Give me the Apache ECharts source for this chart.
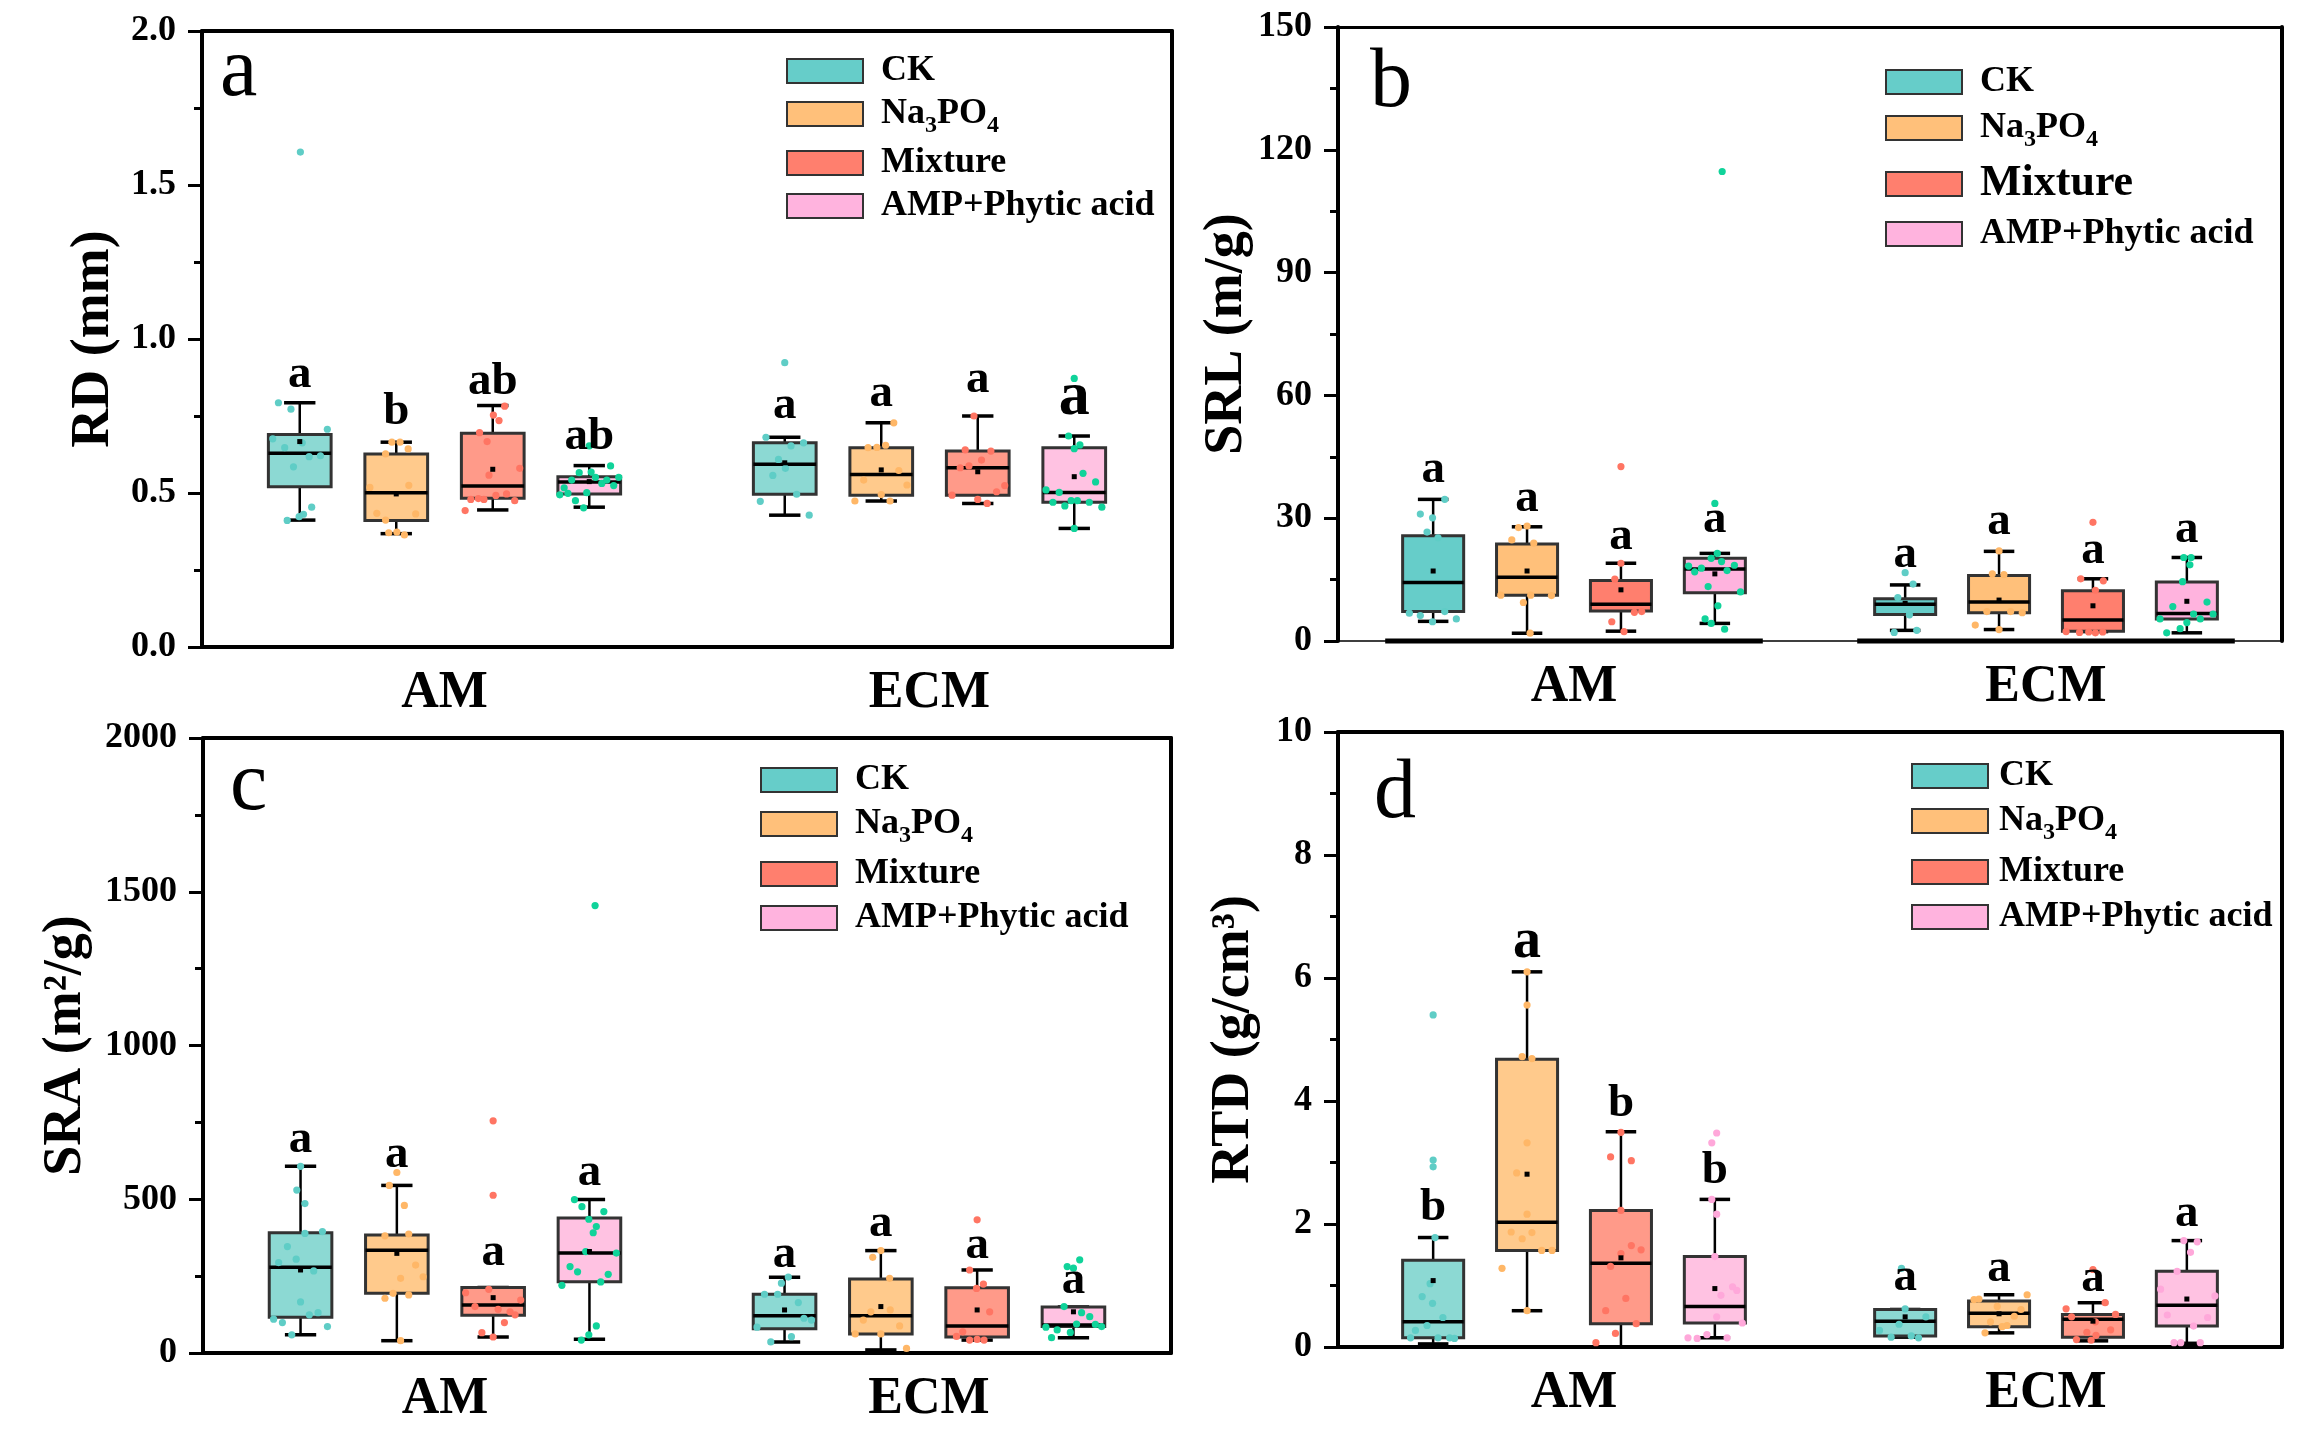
<!DOCTYPE html>
<html>
<head>
<meta charset="utf-8">
<title>RD / SRL / SRA / RTD</title>
<script src="https://cdn.jsdelivr.net/npm/echarts@6/dist/echarts.min.js"></script>
<style>
  html, body { margin: 0; background: #fff; }
  #chart { width: 2305px; height: 1432px; }
</style>
</head>
<body>
<div id="chart"></div>
<script>
// 分组与处理
var groups = ['AM', 'ECM'];
var treatments = ['CK', 'Na3PO4', 'Mixture', 'AMP+Phytic acid'];

// 箱线统计 [min, Q1, median, Q3, max]，每个处理为 [AM, ECM]
var rdBox = [
  [[0.412, 0.520, 0.629, 0.690, 0.793], [0.428, 0.496, 0.593, 0.663, 0.681]],
  [[0.368, 0.411, 0.501, 0.627, 0.665], [0.474, 0.493, 0.560, 0.647, 0.728]],
  [[0.445, 0.483, 0.523, 0.694, 0.784], [0.466, 0.493, 0.582, 0.636, 0.750]],
  [[0.454, 0.497, 0.536, 0.553, 0.589], [0.385, 0.470, 0.502, 0.647, 0.685]]
];
var srlBox = [
  [[4.8, 7.2, 14.3, 25.7, 34.6], [2.6, 6.5, 9.0, 10.3, 13.7]],
  [[1.9, 11.2, 15.6, 23.7, 27.9], [2.8, 6.9, 9.5, 16.0, 21.9]],
  [[2.4, 7.3, 9.0, 14.8, 19.0], [2.3, 2.4, 5.1, 12.3, 15.2]],
  [[4.3, 11.8, 17.6, 20.2, 21.4], [2.0, 5.4, 6.7, 14.4, 20.4]]
];
var sraBox = [
  [[59, 116, 279, 391, 607], [36, 79, 121, 191, 246]],
  [[40, 194, 334, 384, 545], [10, 62, 121, 241, 333]],
  [[52, 123, 156, 213, 213], [42, 52, 88, 212, 270]],
  [[45, 232, 325, 439, 499], [50, 86, 91, 150, 150]]
];
var rtdBox = [
  [[0.05, 0.15, 0.41, 1.41, 1.78], [0.16, 0.18, 0.42, 0.61, 0.61]],
  [[0.59, 1.57, 2.03, 4.68, 6.10], [0.23, 0.33, 0.55, 0.75, 0.85]],
  [[0.00, 0.38, 1.36, 2.22, 3.50], [0.10, 0.16, 0.45, 0.53, 0.72]],
  [[0.15, 0.39, 0.66, 1.47, 2.40], [0.06, 0.34, 0.68, 1.23, 1.73]]
];

// 散点 [横向抖动(箱宽比例), 数值]
var rdPts = [
  [[[-0.34,0.793],[-0.14,0.772],[0.44,0.707],[-0.43,0.676],[0.04,0.663],[-0.24,0.647],[0.15,0.618],[0.33,0.621],[-0.10,0.585],[0.19,0.454],[0.06,0.431],[-0.01,0.423],[-0.20,0.411],[0.01,1.607]],
   [[0,0.923],[-0.30,0.681],[0.30,0.663],[0.10,0.653],[-0.10,0.609],[0.01,0.580],[-0.19,0.557],[0.19,0.496],[-0.39,0.473],[0.39,0.428]]],
  [[[-0.07,0.665],[0.06,0.665],[0.19,0.643],[-0.17,0.627],[-0.42,0.518],[0.20,0.525],[-0.31,0.434],[0.31,0.432],[-0.17,0.412],[-0.12,0.371],[0.01,0.373],[0.13,0.364]],
   [[0.20,0.728],[-0.21,0.647],[-0.07,0.648],[0.07,0.655],[0.28,0.573],[-0.28,0.542],[0.41,0.526],[0,0.495],[-0.42,0.474],[0.14,0.474]]],
  [[[0.19,0.782],[0.01,0.753],[0.10,0.735],[-0.21,0.696],[-0.09,0.667],[0.43,0.580],[-0.06,0.558],[0.22,0.497],[0.05,0.492],[-0.35,0.479],[-0.23,0.482],[-0.14,0.479],[0.35,0.475],[-0.44,0.443]],
   [[-0.06,0.750],[-0.20,0.640],[0.21,0.636],[0.06,0.607],[-0.28,0.582],[-0.14,0.588],[0.43,0.524],[0.30,0.504],[-0.41,0.493],[0,0.479],[0.15,0.466]]],
  [[[0,0.653],[0.34,0.588],[-0.16,0.566],[0.03,0.568],[0.10,0.551],[0.47,0.551],[-0.28,0.542],[0.20,0.531],[0.28,0.542],[0.39,0.524],[-0.40,0.517],[-0.04,0.501],[-0.34,0.499],[-0.47,0.494],[-0.22,0.475],[-0.09,0.452]],
   [[0,0.872],[-0.09,0.685],[0.09,0.656],[0,0.644],[0.14,0.564],[0.34,0.536],[-0.45,0.510],[-0.24,0.502],[-0.34,0.470],[-0.05,0.475],[0.05,0.475],[0.24,0.470],[-0.15,0.458],[0.44,0.454],[0,0.385]]]
];
var srlPts = [
  [[[0.19,34.6],[-0.21,31.0],[-0.01,30.1],[-0.10,26.6],[0.08,25.2],[-0.39,6.8],[-0.21,6.2],[0.19,7.2],[0.38,5.4],[-0.01,4.7]],
   [[0,16.7],[0.13,13.9],[-0.12,10.6],[0.07,6.4],[-0.18,2.1],[0.19,2.6]]],
  [[[-0.14,27.7],[0,28.1],[-0.25,24.7],[0.11,23.9],[-0.43,11.2],[0.06,11.2],[0.40,11.1],[-0.06,9.4],[0.05,1.9]],
   [[0,22.0],[-0.11,16.4],[0.08,16.2],[-0.20,7.2],[0.19,7.2],[0.38,6.9],[-0.39,3.9],[0,2.8]]],
  [[[0,42.6],[0,19.0],[-0.10,15.1],[0.22,7.0],[0.34,7.2],[-0.15,4.7],[0.05,2.3]],
   [[0,29.0],[-0.20,15.2],[0.17,14.7],[0.04,12.4],[-0.44,2.3],[-0.22,2.1],[0.04,2.0],[0.16,2.2],[-0.07,2.2]]],
  [[[0.12,114.7],[0,33.6],[0.04,21.4],[-0.06,20.2],[0.11,19.4],[-0.43,18.3],[0.32,18.5],[-0.33,16.9],[-0.22,17.8],[0.20,17.2],[-0.11,13.3],[0.42,12.0],[0.05,8.6],[-0.16,5.4],[-0.06,4.3],[0.16,2.9]],
   [[-0.05,20.4],[0.07,20.4],[0.05,18.6],[-0.07,14.5],[0.33,9.5],[-0.23,8.4],[0.11,6.6],[0.22,5.4],[0.43,6.6],[-0.44,5.4],[0,4.5],[-0.11,3.0],[-0.33,2.0]]]
];
var sraPts = [
  [[[0,607],[-0.06,530],[0.07,486],[0.07,389],[0.35,395],[-0.21,346],[-0.07,305],[-0.35,294],[0.21,267],[0,166],[0.28,131],[0.14,124],[-0.43,110],[-0.29,99],[0.43,86],[-0.14,59]],
   [[0.06,247],[-0.05,227],[-0.32,191],[-0.11,191],[0.22,164],[0.31,113],[0.43,107],[-0.44,84],[0.11,53],[-0.22,36]]],
  [[[0,587],[-0.12,545],[0.12,480],[-0.19,381],[0.19,387],[0.30,286],[0.42,248],[0.06,243],[-0.06,194],[0.19,189],[-0.19,178],[0.06,40]],
   [[0,333],[-0.13,311],[0.14,243],[0.15,140],[-0.16,134],[-0.28,107],[0.30,88],[-0.41,62],[0,62],[0.41,15]]],
  [[[0,755],[0,513],[-0.07,207],[-0.44,196],[0.44,172],[-0.29,151],[0.08,142],[0.27,134],[0.35,124],[0.18,99],[-0.18,66],[0,52]],
   [[0,433],[-0.12,270],[0.10,224],[-0.01,210],[0.20,134],[-0.23,69],[-0.33,54],[-0.12,42],[0,44],[0.11,42]]],
  [[[0.09,1455],[-0.24,499],[-0.12,476],[0.23,460],[-0.01,435],[0.11,411],[0.06,391],[-0.06,330],[0.43,325],[-0.31,281],[-0.19,264],[0.30,256],[0.18,231],[-0.44,220],[0.11,88],[-0.01,59],[-0.13,42]],
   [[0.10,303],[-0.10,281],[0,276],[-0.15,151],[0.13,131],[0.26,118],[0.05,94],[0.35,93],[0.45,86],[-0.44,84],[-0.26,75],[-0.05,67],[-0.35,50]]]
];
var rtdPts = [
  [[[0,5.40],[0,3.04],[0,2.93],[0.03,1.78],[-0.05,1.03],[-0.18,0.82],[-0.01,0.71],[0.16,0.48],[-0.10,0.35],[-0.29,0.27],[-0.37,0.15],[0.08,0.15],[0.27,0.15],[0.35,0.14]],
   [[-0.06,1.28],[0,0.62],[0.34,0.49],[-0.10,0.37],[-0.42,0.27],[-0.23,0.16],[0.10,0.18],[0.22,0.15]]],
  [[[0,6.10],[0,5.56],[-0.08,4.72],[0.08,4.69],[0,3.32],[-0.17,2.83],[0,2.16],[-0.26,1.87],[0.08,1.86],[-0.08,1.76],[0.24,1.57],[0.41,1.57],[-0.41,1.28],[0,0.59]],
   [[0.46,0.85],[-0.41,0.77],[-0.33,0.78],[-0.03,0.66],[0.36,0.61],[0.25,0.50],[-0.14,0.41],[0.13,0.35],[0.05,0.33],[-0.23,0.23]]],
  [[[0,3.49],[-0.17,3.09],[0.17,3.03],[0,2.22],[0.17,1.65],[0.33,1.58],[0,1.52],[-0.17,1.31],[0.08,0.79],[-0.25,0.59],[0.25,0.38],[-0.09,0.22],[-0.41,0.07]],
   [[0,1.26],[0.20,0.72],[-0.44,0.62],[0.37,0.53],[-0.35,0.49],[0.04,0.41],[0.29,0.28],[-0.10,0.24],[0.05,0.19],[-0.27,0.12],[-0.03,0.11]]],
  [[[0.03,3.48],[-0.05,3.32],[-0.05,2.40],[0.03,2.16],[0,1.47],[0.29,0.98],[0.36,0.92],[0.10,0.84],[0.03,0.49],[0.45,0.39],[-0.13,0.20],[-0.44,0.15],[-0.29,0.14],[0.20,0.15]],
   [[-0.05,1.73],[0.17,1.71],[0.06,1.54],[-0.16,1.23],[-0.43,0.94],[0.46,0.83],[-0.32,0.52],[0.34,0.48],[0.11,0.34],[-0.21,0.07],[-0.10,0.07],[0.22,0.07]]]
];

// 均值 [AM, ECM]
var rdMean = [[0.667, 0.598], [0.497, 0.575], [0.577, 0.569], [0.537, 0.553]];
var srlMean = [[17.1, 9.2], [17.1, 10.0], [12.5, 8.6], [16.4, 9.7]];
var sraMean = [[270, 140], [324, 151], [180, 140], [330, 134]];
var rtdMean = [[1.08, 0.49], [2.81, 0.54], [1.45, 0.42], [0.95, 0.78]];

// 显著性字母及其高度
var rdLetters = [['a', 'a'], ['b', 'a'], ['ab', 'a'], ['ab', 'a']];
var rdLetterY = [[0.873, 0.772], [0.753, 0.813], [0.850, 0.857], [0.672, 0.800]];
var srlLetters = [['a', 'a'], ['a', 'a'], ['a', 'a'], ['a', 'a']];
var srlLetterY = [[41, 20.2], [34, 28.3], [24.7, 21.4], [28.8, 26.3]];
var sraLetters = [['a', 'a'], ['a', 'a'], ['a', 'a'], ['a', 'a']];
var sraLetterY = [[684, 311], [633, 411], [317, 340], [576, 224]];
var rtdLetters = [['b', 'a'], ['a', 'a'], ['b', 'a'], ['b', 'a']];
var rtdLetterY = [[2.22, 1.08], [6.53, 1.22], [3.90, 1.06], [2.82, 2.11]];

/****** 样式 ******/
var FONT = '"Liberation Serif", "Times New Roman", serif';
var legendColors = ['#66cdc9', '#ffc07a', '#ff7f6e', '#ffb3de'];
var lightFills = ['#8cd9d3', '#ffca8c', '#ff9a89', '#ffc2e2'];
var dotColors = ['#5fcdc6', '#ffb767', '#ff7563', '#10d39a'];

var panels = [
  { box: rdBox, pts: rdPts, mean: rdMean, letters: rdLetters, letterY: rdLetterY,
    grid: { left: 202, top: 31, width: 970, height: 616 },
    min: 0, max: 2, interval: 0.5, name: 'RD (mm)', nameGap: 81, digits: 1,
    legend: { left: 786, top: 53, gap: 7 }, tag: 'a', tagPos: [220, 101],
    lw: { top: 4, right: 4, bottom: 4, left: 4 }, fills: lightFills, ampDot: '#10d39a', big: [3, 1, 62] },
  { box: srlBox, pts: srlPts, mean: srlMean, letters: srlLetters, letterY: srlLetterY,
    grid: { left: 1338, top: 27, width: 944, height: 614 },
    min: 0, max: 150, interval: 30, name: 'SRL (m/g)', nameGap: 80, digits: 0,
    legend: { left: 1885, top: 64, gap: 10 }, tag: 'b', tagPos: [1370, 112],
    lw: { top: 3, right: 4, bottom: 1.5, left: 4 }, fills: legendColors, ampDot: '#10d39a', base: true, bigMixture: true },
  { box: sraBox, pts: sraPts, mean: sraMean, letters: sraLetters, letterY: sraLetterY,
    grid: { left: 203, top: 738, width: 968, height: 615 },
    min: 0, max: 2000, interval: 500, name: 'SRA (m²/g)', nameGap: 110, digits: 0,
    legend: { left: 760, top: 762, gap: 8 }, tag: 'c', tagPos: [230, 815],
    lw: { top: 4, right: 4, bottom: 4, left: 4 }, fills: lightFills, ampDot: '#10d39a' },
  { box: rtdBox, pts: rtdPts, mean: rtdMean, letters: rtdLetters, letterY: rtdLetterY,
    grid: { left: 1338, top: 732, width: 944, height: 615 },
    min: 0, max: 10, interval: 2, name: 'RTD (g/cm³)', nameGap: 77, digits: 0,
    legend: { left: 1911, top: 758, gap: 9 }, tag: 'd', tagPos: [1374, 823],
    lw: { top: 4, right: 4, bottom: 4, left: 4 }, fills: lightFills, ampDot: '#ffa8da', big: [1, 0, 56], textPad: 6 }
];

// 箱子位置：与 ECharts boxplot 的并列布局一致
function slot(api, g, t) {
  var c = api.coord([g, 0]);
  var bw = api.size([1, 0])[0];
  var s = (bw * 0.8 - 2) / 4;
  return { x: c[0] + (t - 1.5) * s, w: s * 0.65, bw: bw, cx: c[0] };
}

function renderBox(t, fill) {
  return function (params, api) {
    var g = api.value(0);
    var s = slot(api, g, t);
    var y = [1, 2, 3, 4, 5].map(function (d) { return api.coord([g, api.value(d)])[1]; });
    var half = s.w / 2, cap = s.w / 4;
    var ln = function (x1, y1, x2, y2, w) {
      return { type: 'line', shape: { x1: x1, y1: y1, x2: x2, y2: y2 }, style: { stroke: '#000', lineWidth: w } };
    };
    return { type: 'group', children: [
      ln(s.x, y[0], s.x, y[1], 2.5),
      ln(s.x, y[3], s.x, y[4], 2.5),
      ln(s.x - cap, y[0], s.x + cap, y[0], 3.5),
      ln(s.x - cap, y[4], s.x + cap, y[4], 3.5),
      { type: 'rect', shape: { x: s.x - half, y: y[3], width: s.w, height: y[1] - y[3] },
        style: { fill: fill, stroke: '#333', lineWidth: 3 } },
      ln(s.x - half, y[2], s.x + half, y[2], 3.5)
    ] };
  };
}

function renderDot(t, color) {
  return function (params, api) {
    var g = api.value(0);
    var s = slot(api, g, t);
    var p = api.coord([g, api.value(2)]);
    return { type: 'circle', shape: { cx: s.x + api.value(1) * s.w, cy: p[1], r: 3.6 }, style: { fill: color } };
  };
}

function renderMean(t) {
  return function (params, api) {
    var g = api.value(0);
    var s = slot(api, g, t);
    var p = api.coord([g, api.value(1)]);
    return { type: 'rect', shape: { x: s.x - 2.5, y: p[1] - 2.5, width: 5, height: 5 }, style: { fill: '#000' } };
  };
}

function renderLetter(t, texts, big) {
  return function (params, api) {
    var g = api.value(0);
    var s = slot(api, g, t);
    var p = api.coord([g, api.value(1)]);
    var size = (big && big[0] === t && big[1] === g) ? big[2] : 47;
    return { type: 'text', x: s.x, y: p[1] - 3,
      style: { text: texts[g], font: 'bold ' + size + 'px ' + FONT, fill: '#000', align: 'center', verticalAlign: 'middle' } };
  };
}

function renderBase(params, api) {
  var g = api.value(0);
  var s = slot(api, g, 0);
  var y = api.coord([g, api.value(1)])[1];
  return { type: 'line', shape: { x1: s.cx - s.bw * 0.4, y1: y, x2: s.cx + s.bw * 0.4, y2: y }, style: { stroke: '#000', lineWidth: 5 } };
}

var option = {
  animation: false,
  backgroundColor: '#fff',
  grid: [], xAxis: [], yAxis: [], series: [], legend: [], graphic: []
};

panels.forEach(function (p, k) {
  option.grid.push(p.grid);
  var xb = 2 * k, yl = 2 * k;
  option.xAxis.push({
    gridIndex: k, type: 'category', data: groups,
    axisLine: { onZero: false, lineStyle: { color: '#000', width: p.lw.bottom } },
    axisTick: { show: false },
    axisLabel: { margin: 21, color: '#000', fontSize: 52, fontWeight: 'bold', fontFamily: FONT }
  }, {
    gridIndex: k, type: 'category', data: groups, position: 'top',
    axisLine: { onZero: false, lineStyle: { color: '#000', width: p.lw.top } },
    axisTick: { show: false }, axisLabel: { show: false }
  });
  option.yAxis.push({
    gridIndex: k, type: 'value', min: p.min, max: p.max, interval: p.interval,
    name: p.name, nameLocation: 'middle', nameGap: p.nameGap,
    nameTextStyle: { color: '#000', fontSize: 54, fontWeight: 'bold', fontFamily: FONT },
    axisLine: { show: true, onZero: false, lineStyle: { color: '#000', width: p.lw.left } },
    axisTick: { show: true, length: 14, lineStyle: { color: '#000', width: 3 } },
    minorTick: { show: true, splitNumber: 2, length: 8, lineStyle: { color: '#000', width: 3 } },
    splitLine: { show: false },
    axisLabel: { margin: 26, color: '#000', fontSize: 36, fontWeight: 'bold', fontFamily: FONT,
      formatter: (function (d) { return function (v) { return v.toFixed(d); }; })(p.digits) }
  }, {
    gridIndex: k, type: 'value', min: p.min, max: p.max, interval: p.interval, position: 'right',
    axisLine: { show: true, onZero: false, lineStyle: { color: '#000', width: p.lw.right } },
    axisTick: { show: false }, axisLabel: { show: false }, splitLine: { show: false }
  });

  if (p.base) {
    option.series.push({
      type: 'custom', name: 'base' + k, xAxisIndex: xb, yAxisIndex: yl, z: 3,
      renderItem: renderBase, encode: { x: 0, y: 1 },
      data: groups.map(function (g, gi) { return [gi, 0]; })
    });
  }

  treatments.forEach(function (name, t) {
    option.series.push({
      type: 'custom', name: name, xAxisIndex: xb, yAxisIndex: yl,
      itemStyle: { color: legendColors[t] },
      renderItem: renderBox(t, p.fills[t]),
      encode: { x: 0, y: [1, 2, 3, 4, 5] },
      data: p.box[t].map(function (b, gi) { return [gi].concat(b); })
    });
  });
  treatments.forEach(function (name, t) {
    var dots = [];
    p.pts[t].forEach(function (list, gi) {
      list.forEach(function (pt) { dots.push([gi, pt[0], pt[1]]); });
    });
    option.series.push({
      type: 'custom', name: name + ' points', xAxisIndex: xb, yAxisIndex: yl,
      renderItem: renderDot(t, t === 3 ? p.ampDot : dotColors[t]),
      encode: { x: 0, y: 2 }, data: dots
    });
    option.series.push({
      type: 'custom', name: name + ' mean', xAxisIndex: xb, yAxisIndex: yl,
      renderItem: renderMean(t), encode: { x: 0, y: 1 },
      data: p.mean[t].map(function (m, gi) { return [gi, m]; })
    });
    option.series.push({
      type: 'custom', name: name + ' letter', xAxisIndex: xb, yAxisIndex: yl,
      renderItem: renderLetter(t, p.letters[t], p.big), encode: { x: 0, y: 1 },
      data: p.letterY[t].map(function (v, gi) { return [gi, v]; })
    });
  });

  option.legend.push({
    left: p.legend.left, top: p.legend.top, orient: 'vertical', padding: 0,
    itemWidth: 76, itemHeight: 24, itemGap: p.legend.gap, icon: 'rect',
    selectedMode: false,
    data: treatments.map(function (name, t) {
      var item = { name: name, itemStyle: { color: legendColors[t], borderColor: '#333', borderWidth: 2 } };
      if (p.bigMixture && t === 2) item.textStyle = { fontSize: 44 };
      return item;
    }),
    formatter: function (name) { return name === 'Na3PO4' ? 'Na{sub|3}PO{sub|4}' : name; },
    textStyle: {
      color: '#000', fontSize: 36, fontWeight: 'bold', fontFamily: FONT, padding: [0, 0, 0, p.textPad || 13],
      rich: { sub: { color: '#000', fontSize: 24, fontWeight: 'bold', fontFamily: FONT, verticalAlign: 'bottom', padding: [0, 0, -6, 0] } }
    }
  });

  option.graphic.push({
    type: 'text', x: p.tagPos[0], y: p.tagPos[1] - 28,
    style: { text: p.tag, font: '84px ' + FONT, fill: '#000', align: 'left', verticalAlign: 'middle' }
  });
});

var chart = echarts.init(document.getElementById('chart'));
chart.setOption(option);

window.addEventListener('resize', function () {
  chart.resize();
});
</script>
</body>
</html>
